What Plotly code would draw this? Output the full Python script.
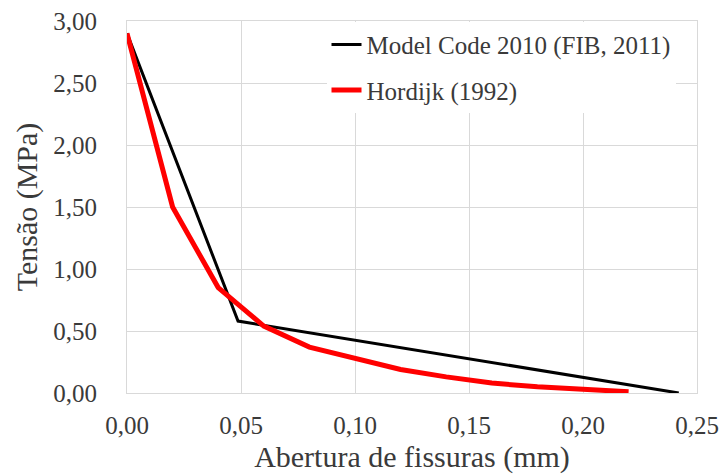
import plotly.graph_objects as go

# Model Code 2010 (FIB, 2011)
mc_w = [0.0, 0.0487, 0.242]
mc_s = [2.90, 0.58, 0.00]

# Hordijk (1992)
hd_w = [0.00, 0.02, 0.04, 0.06, 0.08, 0.10, 0.12, 0.14, 0.16, 0.18, 0.20, 0.22]
hd_s = [2.90, 1.50, 0.85, 0.54, 0.37, 0.28, 0.19, 0.13, 0.08, 0.05, 0.03, 0.01]

x_ticks = [0.00, 0.05, 0.10, 0.15, 0.20, 0.25]
x_labels = ["0,00", "0,05", "0,10", "0,15", "0,20", "0,25"]
y_ticks = [0.0, 0.5, 1.0, 1.5, 2.0, 2.5, 3.0]
y_labels = ["0,00", "0,50", "1,00", "1,50", "2,00", "2,50", "3,00"]

x_title = "Abertura de fissuras (mm)"
y_title = "Tensão (MPa)"

FONT = "'Liberation Serif', 'Times New Roman', serif"
TXT = "#3a3a3a"
GRID = "#d9d9d9"
NB = "\u00a0"

fig = go.Figure()
fig.add_trace(go.Scatter(x=mc_w, y=mc_s, mode="lines", name="Model Code 2010 (FIB, 2011)",
                         line=dict(color="black", width=3), legendgroup="a"))
fig.add_trace(go.Scatter(x=hd_w, y=hd_s, mode="lines", name="Hordijk (1992)",
                         line=dict(color="#ff0000", width=5), legendgroup="b"))

fig.update_layout(
    width=722, height=474,
    margin=dict(l=127, r=25, t=21, b=81, autoexpand=False),
    paper_bgcolor="white", plot_bgcolor="white",
    font=dict(family=FONT, size=25, color=TXT),
    legend=dict(x=0.35, y=0.998, xanchor="left", yanchor="top",
                bgcolor="white", tracegroupgap=10),
    showlegend=True,
)
fig.update_xaxes(range=[0, 0.25], tickvals=x_ticks, ticktext=x_labels,
                 showgrid=True, gridcolor=GRID, gridwidth=1,
                 showline=True, linecolor=GRID, mirror=True, zeroline=False,
                 ticks="", ticklabelstandoff=10, ticklabeloverflow="allow",
                 title=dict(text=NB * 9 + x_title, standoff=10))
fig.update_yaxes(range=[0, 3], tickvals=y_ticks, ticktext=y_labels,
                 showgrid=True, gridcolor=GRID, gridwidth=1,
                 showline=True, linecolor=GRID, mirror=True, zeroline=False,
                 ticks="", ticklabelstandoff=24, ticklabeloverflow="allow",
                 title=dict(text=y_title + NB * 11, standoff=6))

fig.write_html("out.html", config={"displayModeBar": False},
               post_script="document.body.style.margin='0px';document.body.style.overflow='hidden';")
